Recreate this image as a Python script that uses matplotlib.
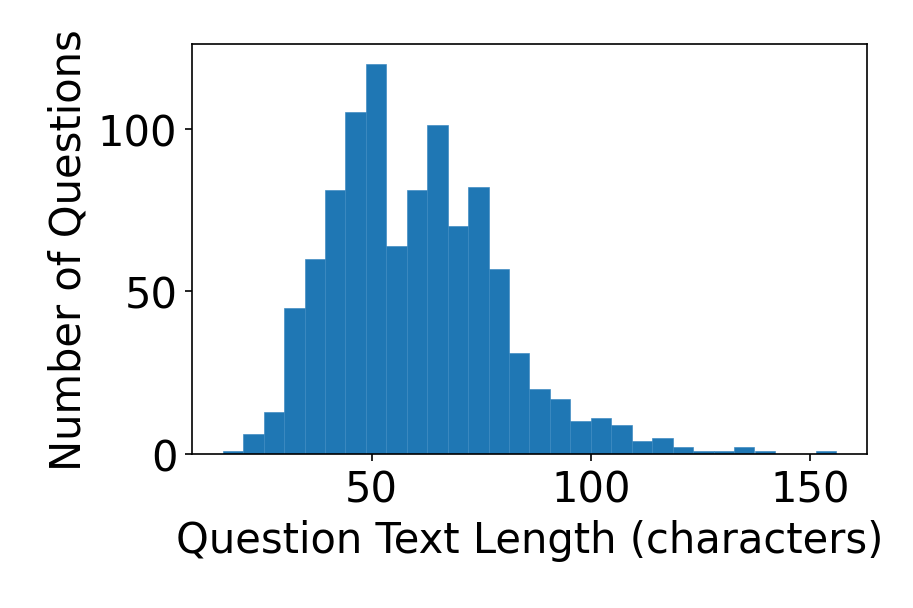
import numpy as np
import matplotlib
matplotlib.use('Agg')
import matplotlib.pyplot as plt

# histogram counts, 30 equal bins from 16 to 156 chars
len_min = 16
len_max = 156
counts = [1, 6, 13, 45, 60, 81, 105, 120, 64, 81,
          101, 70, 82, 57, 31, 20, 17, 10, 11, 9,
          4, 5, 2, 1, 1, 2, 1, 0, 0, 1]

edges = np.linspace(len_min, len_max, len(counts) + 1)
centers = (edges[:-1] + edges[1:]) / 2

plt.rcParams['font.size'] = 20

fig = plt.figure(figsize=(913 / 150, 609 / 150), dpi=150)
ax = fig.add_axes([192 / 913, 1 - 455 / 609, (867 - 192) / 913, (455 - 45) / 609])

ax.hist(centers, bins=edges, weights=counts, color='#1f77b4',
        edgecolor='#3a88c0', linewidth=0.3)

ax.set_xticks([50, 100, 150])
ax.set_yticks([0, 50, 100])
ax.set_xlabel("Question Text Length (characters)")
ax.set_ylabel("Number of Questions")

fig.savefig("out.png", dpi=150)
